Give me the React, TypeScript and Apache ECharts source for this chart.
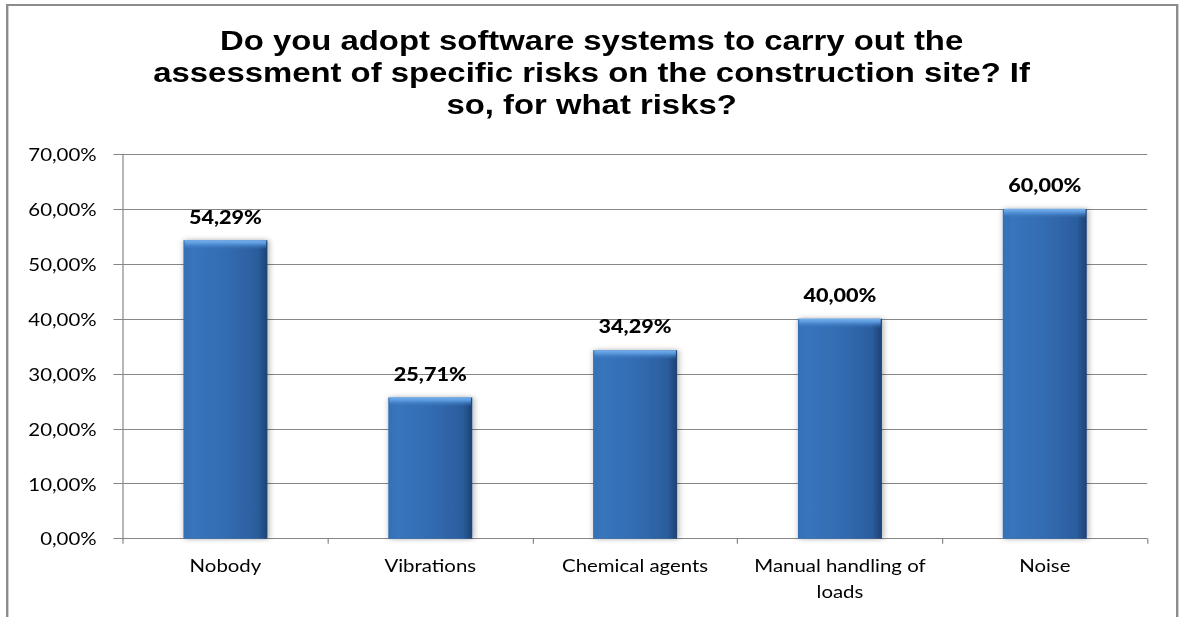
import React, { useEffect, useRef } from "react";
import * as echarts from "echarts";

// Survey answers: share of respondents per risk type (percent)
const categories: string[] = [
  "Nobody",
  "Vibrations",
  "Chemical agents",
  "Manual handling of\nloads",
  "Noise",
];
const shares: number[] = [54.29, 25.71, 34.29, 40.0, 60.0];

// Value axis range and step (percent)
const axisMin = 0;
const axisMax = 70;
const axisStep = 10;

const titleText =
  "Do you adopt software systems to carry out the\nassessment of specific risks on the construction site? If\nso, for what risks?";

const pct = (v: number) => v.toFixed(2).replace(".", ",") + "%";

// The chart is laid out on a 984px-wide canvas and widened 1.2x horizontally.
const BASE_W = 984;
const BASE_H = 617;
const STRETCH = 1.2;
const BAR_W = 70;

export default function App() {
  const ref = useRef<HTMLDivElement>(null);

  useEffect(() => {
    if (!ref.current) return;
    const chart = echarts.init(ref.current, undefined, { renderer: "svg" });
    const grey = "#868686";
    const labelFont = "Lato, 'Open Sans', sans-serif";

    chart.setOption({
      animation: false,
      backgroundColor: "#ffffff",
      graphic: [
        {
          type: "text",
          x: 493,
          y: 24,
          silent: true,
          style: {
            text: titleText,
            fontFamily: "'Liberation Sans', Arial, sans-serif",
            fontWeight: "bold",
            fontSize: 27.4,
            lineHeight: 32,
            fill: "#000000",
            align: "center",
            verticalAlign: "top",
          },
        },
        {
          type: "rect",
          shape: { x: 6, y: 5, width: 975, height: 660 },
          style: { fill: "none", stroke: "#8c8c8c", lineWidth: 2 },
          z: 100,
          silent: true,
        },
      ],
      grid: {
        left: 102.5,
        right: 28,
        top: 154,
        bottom: 78.3,
        containLabel: false,
      },
      xAxis: {
        type: "category",
        data: categories,
        axisLine: { show: true, lineStyle: { color: grey, width: 1 } },
        axisTick: {
          show: true,
          alignWithLabel: false,
          length: 5,
          lineStyle: { color: grey },
        },
        axisLabel: {
          color: "#000000",
          fontFamily: labelFont,
          fontSize: 17,
          lineHeight: 26,
          margin: 14,
          interval: 0,
        },
        splitLine: { show: false },
      },
      yAxis: {
        type: "value",
        min: axisMin,
        max: axisMax,
        interval: axisStep,
        axisLine: { show: true, lineStyle: { color: grey, width: 1 } },
        axisTick: { show: true, length: 8, lineStyle: { color: grey } },
        axisLabel: {
          color: "#000000",
          fontFamily: labelFont,
          fontSize: 17,
          margin: 22,
          formatter: (v: number) => pct(v),
        },
        splitLine: { show: true, lineStyle: { color: grey, width: 1 } },
      },
      series: [
        {
          type: "bar",
          data: shares,
          barWidth: BAR_W,
          z: 2,
          itemStyle: {
            color: new echarts.graphic.LinearGradient(0, 0, 1, 0, [
              { offset: 0, color: "#3670b6" },
              { offset: 0.12, color: "#3774bc" },
              { offset: 0.5, color: "#336cb2" },
              { offset: 0.88, color: "#2b5e9e" },
              { offset: 1, color: "#1d4274" },
            ]),
            shadowColor: "rgba(0,0,0,0.35)",
            shadowBlur: 5,
            shadowOffsetX: 1,
            shadowOffsetY: 0,
          },
          label: {
            show: true,
            position: "top",
            distance: 15,
            color: "#000000",
            fontFamily: labelFont,
            fontWeight: 900,
            fontSize: 18,
            formatter: (p: any) => pct(p.value),
          },
        },
        {
          // light bevel along the top edge of each bar
          type: "pictorialBar",
          data: shares,
          symbol: "rect",
          symbolSize: [BAR_W - 2, 9],
          symbolPosition: "end",
          symbolOffset: [0, 0],
          z: 3,
          silent: true,
          itemStyle: {
            color: new echarts.graphic.LinearGradient(0, 0, 0, 1, [
              { offset: 0, color: "#78b2ee" },
              { offset: 0.35, color: "#5a98dc" },
              { offset: 1, color: "rgba(58,118,190,0)" },
            ]),
          },
        },
      ],
    });

    return () => {
      chart.dispose();
    };
  }, []);

  return (
    <div
      style={{
        position: "fixed",
        left: 0,
        top: 0,
        width: BASE_W * STRETCH,
        height: BASE_H,
        overflow: "hidden",
        background: "#ffffff",
      }}
    >
      <div
        ref={ref}
        style={{
          width: BASE_W,
          height: BASE_H,
          transform: `scaleX(${STRETCH})`,
          transformOrigin: "0 0",
        }}
      />
    </div>
  );
}
